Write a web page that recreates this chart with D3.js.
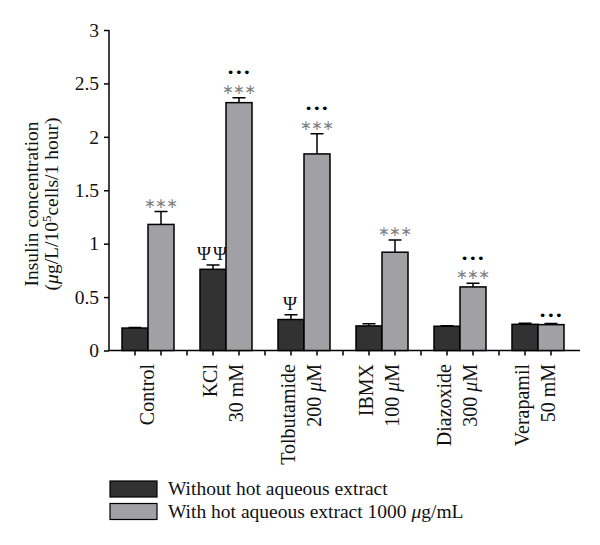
<!DOCTYPE html>
<html>
<head>
<meta charset="utf-8">
<script src="https://cdn.jsdelivr.net/npm/d3@7"></script>
<style>
  body { margin: 0; background: #fff; }
  text { font-family: "Liberation Serif", "DejaVu Serif", serif; }
</style>
</head>
<body>
<div id="graph"></div>
<script>
let width = 600,
    height = 545;

// data
let groups = ["Control", "KCl", "Tolbutamide", "IBMX", "Diazoxide", "Verapamil"];
let groupLines = [["Control"], ["KCl", "30 mM"], ["Tolbutamide", "200 \u03bcM"], ["IBMX", "100 \u03bcM"], ["Diazoxide", "300 \u03bcM"], ["Verapamil", "50 mM"]];
let without = [0.21, 0.76, 0.29, 0.23, 0.227, 0.245];
let withoutErr = [0.005, 0.04, 0.045, 0.02, 0.004, 0.01];
let withExt = [1.18, 2.32, 1.84, 0.92, 0.595, 0.242];
let withErr = [0.12, 0.045, 0.19, 0.115, 0.035, 0.01];
let psiMarks = ["", "\u03a8\u03a8", "\u03a8", "", "", ""];
let starMarks = ["***", "***", "***", "***", "***", ""];
let dotMarks = ["", "\u2022\u2022\u2022", "\u2022\u2022\u2022", "", "\u2022\u2022\u2022", "\u2022\u2022\u2022"];
let yTicks = [0, 0.5, 1, 1.5, 2, 2.5, 3];
let seriesNames = ["Without hot aqueous extract", "With hot aqueous extract 1000 \u03bcg/mL"];
let colors = ["#323232", "#a1a1a5"];

let svg = d3.select("#graph").append("svg")
    .attr("width", width)
    .attr("height", height);

let y = d3.scaleLinear().domain([0, 3]).range([350.5, 30]);

// each group = dark bar, light bar, gap
let x = d3.scaleBand().domain(groups).range([122, 590]).paddingInner(0).paddingOuter(0);
let barW = x.bandwidth() / 3;

// text with an italic mu
function muText(sel, str) {
    str.split("\u03bc").forEach((part, k) => {
        if (k > 0) sel.append("tspan").attr("font-style", "italic").text("\u03bc");
        if (part) sel.append("tspan").text(part);
    });
}

// y axis
let yAxis = d3.axisLeft(y).tickValues(yTicks).tickSize(5).tickFormat(d3.format("")).tickPadding(5);
let gy = svg.append("g")
    .attr("transform", "translate(109,0)")
    .call(yAxis);
gy.select(".domain").attr("stroke", "#000").attr("stroke-width", 1.5).attr("d", "M0," + y(3) + "V" + y(0));
gy.selectAll(".tick line").attr("stroke", "#000").attr("stroke-width", 1.5);
gy.selectAll(".tick text").attr("font-size", 19.5).attr("fill", "#111")
    .style("font-family", "Liberation Serif, serif");

// x axis line and ticks
svg.append("line")
    .attr("x1", 109).attr("x2", 580)
    .attr("y1", y(0)).attr("y2", y(0))
    .attr("stroke", "#000").attr("stroke-width", 1.5);

let tickPos = [];
groups.forEach((g, i) => {
    tickPos.push(x(g) + barW / 2, x(g) + barW * 1.5);
    if (i < groups.length - 1) tickPos.push(x(g) + barW * 2.5);
});
svg.selectAll(".xtick")
    .data(tickPos)
    .enter().append("line")
    .attr("class", "xtick")
    .attr("x1", d => d).attr("x2", d => d)
    .attr("y1", y(0)).attr("y2", y(0) + 5)
    .attr("stroke", "#000").attr("stroke-width", 1.5);

// bars
let series = [
    {vals: without, errs: withoutErr, color: colors[0], off: 0},
    {vals: withExt, errs: withErr, color: colors[1], off: 1}
];

series.forEach(s => {
    let g = svg.append("g");
    // error bars (upper only)
    g.selectAll(".err")
        .data(groups)
        .enter().append("path")
        .attr("d", (d, i) => {
            let cx = x(d) + barW * (s.off + 0.5);
            let top = y(s.vals[i] + s.errs[i]);
            return "M" + cx + "," + y(s.vals[i]) + "V" + top + "M" + (cx - 6.5) + "," + top + "H" + (cx + 6.5);
        })
        .attr("stroke", "#000").attr("stroke-width", 1.5).attr("fill", "none");
    g.selectAll(".bar")
        .data(groups)
        .enter().append("rect")
        .attr("x", d => x(d) + barW * s.off)
        .attr("y", (d, i) => y(s.vals[i]))
        .attr("width", barW)
        .attr("height", (d, i) => y(0) - y(s.vals[i]))
        .attr("fill", s.color)
        .attr("stroke", "#000")
        .attr("stroke-width", 1.5);
});

// significance marks
svg.selectAll(".psi")
    .data(groups)
    .enter().append("text")
    .attr("x", d => x(d) + barW / 2)
    .attr("y", (d, i) => y(without[i] + withoutErr[i]) - 5)
    .attr("text-anchor", "middle")
    .attr("font-size", 19)
    .attr("letter-spacing", "2px")
    .attr("fill", "#111")
    .text((d, i) => psiMarks[i]);

svg.selectAll(".stars")
    .data(groups)
    .enter().append("text")
    .attr("x", d => x(d) + barW * 1.5)
    .attr("y", (d, i) => y(withExt[i] + withErr[i]) - 4)
    .attr("text-anchor", "middle")
    .attr("font-size", 14)
    .attr("letter-spacing", "-0.5px")
    .attr("fill", "#808080")
    .style("font-family", "DejaVu Sans, sans-serif")
    .text((d, i) => starMarks[i].replace(/\*/g, "\u2217"));

svg.selectAll(".dots")
    .data(groups)
    .enter().append("text")
    .attr("x", d => x(d) + barW * 1.5)
    .attr("y", (d, i) => y(withExt[i] + withErr[i]) - (starMarks[i] ? 20.5 : 4))
    .attr("text-anchor", "middle")
    .attr("font-size", 13)
    .attr("letter-spacing", "0.5px")
    .attr("fill", "#000")
    .style("font-family", "DejaVu Sans, sans-serif")
    .text((d, i) => dotMarks[i]);

// category labels, rotated
groups.forEach((g, i) => {
    let lines = groupLines[i];
    lines.forEach((t, j) => {
        let bx = lines.length === 1 ? x(g) + barW + 6 : x(g) + barW * (j + 0.5) + 4;
        let lab = svg.append("text")
            .attr("transform", "translate(" + bx + ",364)rotate(-90)")
            .attr("text-anchor", "end")
            .attr("font-size", 20)
            .attr("fill", "#111");
        muText(lab, t);
    });
});

// y label
let yl = svg.append("g").attr("transform", "translate(38,204)rotate(-90)");
yl.append("text")
    .attr("text-anchor", "middle")
    .attr("font-size", 19.5)
    .attr("fill", "#111")
    .text("Insulin concentration");
let l2 = yl.append("text")
    .attr("y", 20)
    .attr("text-anchor", "middle")
    .attr("font-size", 19.5)
    .attr("fill", "#111");
l2.append("tspan").text("(");
l2.append("tspan").attr("font-style", "italic").text("\u03bc");
l2.append("tspan").text("g/L/10");
l2.append("tspan").attr("font-size", 13).attr("dy", -7).text("5");
l2.append("tspan").attr("dy", 7).text("cells/1 hour)");

// legend
let legend = svg.append("g").attr("transform", "translate(110,481)");
seriesNames.forEach((n, i) => {
    legend.append("rect")
        .attr("x", 0).attr("y", i * 22.5)
        .attr("width", 47).attr("height", 16)
        .attr("fill", colors[i])
        .attr("stroke", "#000").attr("stroke-width", 1.2);
    let t = legend.append("text")
        .attr("x", 58).attr("y", i * 22.5 + 14)
        .attr("font-size", 19.5)
        .attr("fill", "#111");
    muText(t, n);
});
</script>
</body>
</html>
